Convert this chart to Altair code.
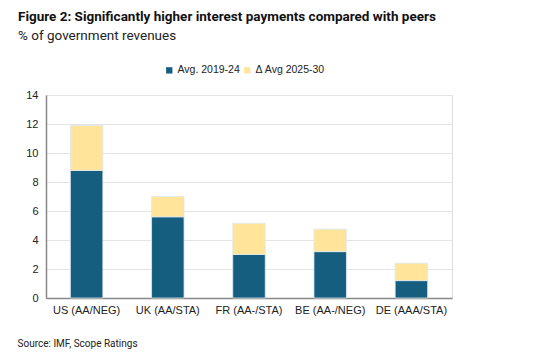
import altair as alt
import pandas as pd

countries = ["US (AA/NEG)", "UK (AA/STA)", "FR (AA-/STA)", "BE (AA-/NEG)", "DE (AAA/STA)"]
avg_2019_24 = [8.8, 5.6, 3.0, 3.2, 1.2]
delta_2025_30 = [3.1, 1.4, 2.15, 1.55, 1.2]
series = ["Avg. 2019-24", "\u0394 Avg 2025-30"]
colors = ["#155E80", "#FFE49A"]

rows = []
for c, a, d in zip(countries, avg_2019_24, delta_2025_30):
    rows.append({"country": c, "series": series[0], "value": a, "order": 0})
    rows.append({"country": c, "series": series[1], "value": d, "order": 1})
df = pd.DataFrame(rows)

chart = alt.Chart(df).mark_bar(stroke="#DDE8EE", strokeWidth=0.8).encode(
    x=alt.X("country:N", sort=countries,
            scale=alt.Scale(paddingInner=0.6, paddingOuter=0.3),
            axis=alt.Axis(title="Source: IMF, Scope Ratings", labelAngle=0,
                          labelFont="Liberation Sans", labelFontSize=11, labelColor="#222",
                          labelPadding=6, ticks=False, domainColor="#888", domainWidth=1.5,
                          titleFont="Roboto", titleFontSize=10, titleFontWeight="normal",
                          titleColor="#222", titleAlign="left", titleAnchor="start",
                          titleX=-29, titleY=40)),
    y=alt.Y("value:Q", stack="zero",
            scale=alt.Scale(domain=[0, 14]),
            axis=alt.Axis(title=None, values=list(range(0, 15, 2)), ticks=False,
                          labelFont="Liberation Sans", labelFontSize=11, labelColor="#222",
                          labelPadding=8, gridColor="#E4E4E4", gridWidth=1.2,
                          domainColor="#888", domainWidth=1.5)),
    color=alt.Color("series:N", sort=series,
                    scale=alt.Scale(domain=series, range=colors),
                    legend=alt.Legend(title=None, orient="none", direction="horizontal",
                                      legendX=118, legendY=-30, symbolType="square",
                                      symbolSize=40, symbolStrokeWidth=0,
                                      labelFont="Liberation Sans", labelFontSize=10.5,
                                      labelColor="#222", columnPadding=2, labelOffset=3)),
    order=alt.Order("order:Q"),
).properties(
    width=406, height=203,
    title=alt.TitleParams(
        text="Figure 2: Significantly higher interest payments compared with peers",
        subtitle="% of government revenues",
        anchor="start", frame="group", dx=-28, offset=23,
        font="Roboto", fontSize=13.5, fontWeight="bold", color="#111",
        subtitleFont="Roboto", subtitleFontSize=13.5, subtitleColor="#222",
        subtitlePadding=5,
    ),
    autosize=alt.AutoSizeParams(type="none"),
    padding={"left": 46, "top": 95, "right": 98, "bottom": 58},
).configure_view(stroke=None).configure(background="white")

chart.save("out.html", embed_options={"renderer": "svg", "actions": False})
